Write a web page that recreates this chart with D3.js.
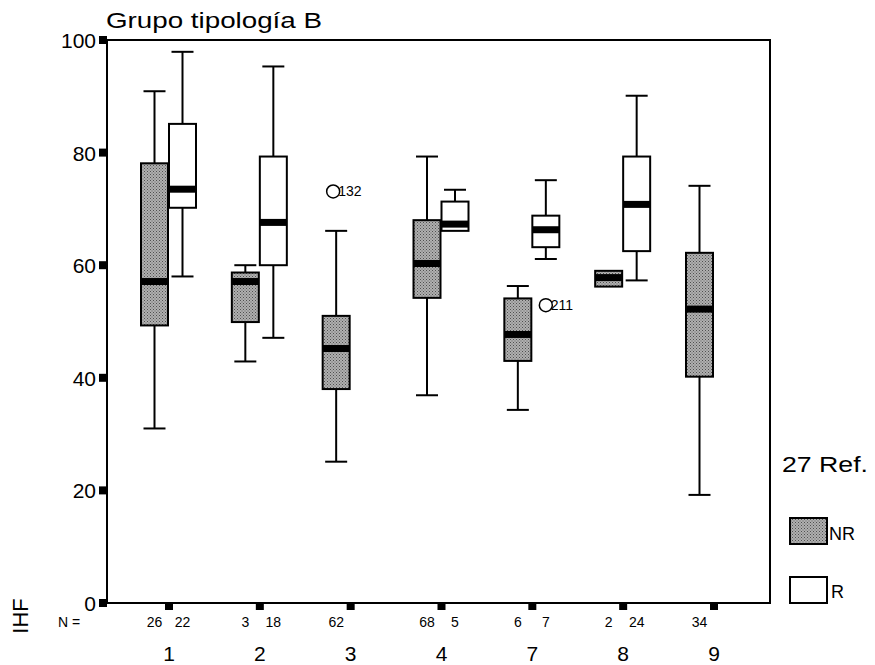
<!DOCTYPE html>
<html>
<head>
<meta charset="utf-8">
<script src="https://cdn.jsdelivr.net/npm/d3@7"></script>
<style>
  body { margin: 0; background: #fff; }
  text { font-family: "Liberation Sans", Arial, sans-serif; fill: #000; }
  .narrow { font-family: "Liberation Sans Narrow", "Liberation Sans", Arial, sans-serif; }
</style>
</head>
<body>
<div id="chart"></div>
<script>
let w = 875;
let h = 665;

// categories on the x axis
const categories = ["1", "2", "3", "4", "7", "8", "9"];
// box stats per category: [low whisker, q1, median, q3, high whisker]
const nrStats = [
  [31.0, 49.3, 57.1, 78.1, 90.9],
  [42.9, 49.9, 57.1, 58.7, 60.0],
  [25.1, 38.0, 45.2, 51.0, 66.1],
  [36.9, 54.2, 60.3, 68.0, 79.3],
  [34.3, 43.0, 47.7, 54.1, 56.3],
  [56.2, 56.2, 57.8, 59.0, 59.0],
  [19.2, 40.2, 52.2, 62.2, 74.1]
];
const rStats = [
  [58.0, 70.2, 73.5, 85.1, 97.9],
  [47.1, 60.0, 67.6, 79.3, 95.3],
  null,
  [66.1, 66.1, 67.3, 71.3, 73.4],
  [61.1, 63.2, 66.3, 68.8, 75.1],
  [57.3, 62.5, 70.8, 79.3, 90.1],
  null
];
const nrCounts = [26, 3, 62, 68, 6, 2, 34];
const rCounts = [22, 18, null, 5, 7, 24, null];
const outlierCats = ["3", "7"];
const outlierGroups = ["NR", "R"];
const outlierValues = [73.1, 52.9];
const outlierIds = ["132", "211"];
const yTicks = [0, 20, 40, 60, 80, 100];

var svg = d3.select("#chart").append("svg").attr("width", w).attr("height", h);

// stipple pattern for the NR boxes
const pat = svg.append("defs").append("pattern")
  .attr("id", "dots").attr("width", 3).attr("height", 3)
  .attr("patternUnits", "userSpaceOnUse");
pat.append("rect").attr("width", 3).attr("height", 3).attr("fill", "#b0b0b0");
pat.append("rect").attr("x", 0).attr("y", 0).attr("width", 1).attr("height", 1).attr("fill", "#505050");
pat.append("rect").attr("x", 1.5).attr("y", 1.5).attr("width", 1).attr("height", 1).attr("fill", "#606060");

const plotLeft = 107, plotRight = 770, plotTop = 40, plotBottom = 603;
const y = d3.scaleLinear().domain([0, 100]).range([plotBottom, plotTop]);
const x = d3.scalePoint().domain(categories).range([169, 714]);
const bw = 27;

// frame
svg.append("rect")
  .attr("x", plotLeft).attr("y", plotTop)
  .attr("width", plotRight - plotLeft).attr("height", plotBottom - plotTop)
  .attr("fill", "none").attr("stroke", "#000").attr("stroke-width", 2);

// y axis tick squares + labels
svg.selectAll("rect.ytick").data(yTicks).enter().append("rect")
  .attr("class", "ytick")
  .attr("x", plotLeft - 8).attr("y", d => y(d) - 4)
  .attr("width", 8).attr("height", 8).attr("fill", "#000");
svg.selectAll("text.ylab").data(yTicks).enter().append("text")
  .attr("class", "ylab")
  .attr("x", 96).attr("y", d => y(d) + 8)
  .attr("text-anchor", "end")
  .attr("font-size", 21)
  .text(d => d);

// x tick squares + labels
svg.selectAll("rect.xtick").data(categories).enter().append("rect")
  .attr("class", "xtick")
  .attr("x", d => x(d) - 4).attr("y", plotBottom)
  .attr("width", 8).attr("height", 7).attr("fill", "#000");
svg.selectAll("text.xlab").data(categories).enter().append("text")
  .attr("class", "xlab narrow")
  .attr("x", d => x(d)).attr("y", 661)
  .attr("text-anchor", "middle")
  .attr("font-size", 21)
  .text(d => d);

// N = row
svg.append("text").attr("class", "narrow")
  .attr("x", 58).attr("y", 627).attr("font-size", 14).text("N =");

function drawBox(g, s, cx, fill) {
  if (!s) return;
  const x0 = cx - bw / 2;
  // whiskers
  if (s[4] > s[3]) {
    g.append("line").attr("x1", cx).attr("x2", cx).attr("y1", y(s[3])).attr("y2", y(s[4]))
      .attr("stroke", "#000").attr("stroke-width", 2);
    g.append("line").attr("x1", cx - 11).attr("x2", cx + 11).attr("y1", y(s[4])).attr("y2", y(s[4]))
      .attr("stroke", "#000").attr("stroke-width", 2);
  }
  if (s[0] < s[1]) {
    g.append("line").attr("x1", cx).attr("x2", cx).attr("y1", y(s[1])).attr("y2", y(s[0]))
      .attr("stroke", "#000").attr("stroke-width", 2);
    g.append("line").attr("x1", cx - 11).attr("x2", cx + 11).attr("y1", y(s[0])).attr("y2", y(s[0]))
      .attr("stroke", "#000").attr("stroke-width", 2);
  }
  g.append("rect")
    .attr("x", x0).attr("y", y(s[3]))
    .attr("width", bw).attr("height", y(s[1]) - y(s[3]))
    .attr("fill", fill).attr("stroke", "#000").attr("stroke-width", 2);
  g.append("rect")
    .attr("x", x0).attr("y", y(s[2]) - 3.5)
    .attr("width", bw).attr("height", 7).attr("fill", "#000");
}

const boxes = svg.append("g");
categories.forEach((c, i) => {
  const nx = x(c) - bw / 2 - 1;
  const rx = x(c) + bw / 2;
  drawBox(boxes, nrStats[i], nx, "url(#dots)");
  drawBox(boxes, rStats[i], rx, "#fff");
  if (nrCounts[i] != null) {
    svg.append("text").attr("class", "narrow").attr("x", nx).attr("y", 627)
      .attr("text-anchor", "middle").attr("font-size", 14).text(nrCounts[i]);
  }
  if (rCounts[i] != null) {
    svg.append("text").attr("class", "narrow").attr("x", rx).attr("y", 627)
      .attr("text-anchor", "middle").attr("font-size", 14).text(rCounts[i]);
  }
});

// outliers
outlierCats.forEach((c, i) => {
  const cx = outlierGroups[i] === "NR" ? x(c) - bw / 2 - 4 : x(c) + bw / 2;
  svg.append("circle").attr("cx", cx).attr("cy", y(outlierValues[i])).attr("r", 6.5)
    .attr("fill", "none").attr("stroke", "#000").attr("stroke-width", 1.5);
  svg.append("text").attr("class", "narrow")
    .attr("x", cx + 5).attr("y", y(outlierValues[i]) + 5)
    .attr("font-size", 14).text(outlierIds[i]);
});

// title
svg.append("text")
  .attr("x", 106).attr("y", 28)
  .attr("font-size", 22)
  .attr("textLength", 216).attr("lengthAdjust", "spacingAndGlyphs")
  .text("Grupo tipología B");

// y axis title
svg.append("text")
  .attr("transform", "translate(28,616) rotate(-90)")
  .attr("text-anchor", "middle")
  .attr("font-size", 22)
  .text("IHF");

// legend
svg.append("text")
  .attr("x", 782).attr("y", 472).attr("font-size", 22)
  .attr("textLength", 86).attr("lengthAdjust", "spacingAndGlyphs")
  .text("27 Ref.");
svg.append("rect").attr("x", 790).attr("y", 518).attr("width", 37).attr("height", 26)
  .attr("fill", "url(#dots)").attr("stroke", "#000").attr("stroke-width", 2);
svg.append("text").attr("x", 829).attr("y", 540).attr("font-size", 18).text("NR");
svg.append("rect").attr("x", 790).attr("y", 577).attr("width", 37).attr("height", 26)
  .attr("fill", "#fff").attr("stroke", "#000").attr("stroke-width", 2);
svg.append("text").attr("x", 831).attr("y", 598).attr("font-size", 18).text("R");
</script>
</body>
</html>
